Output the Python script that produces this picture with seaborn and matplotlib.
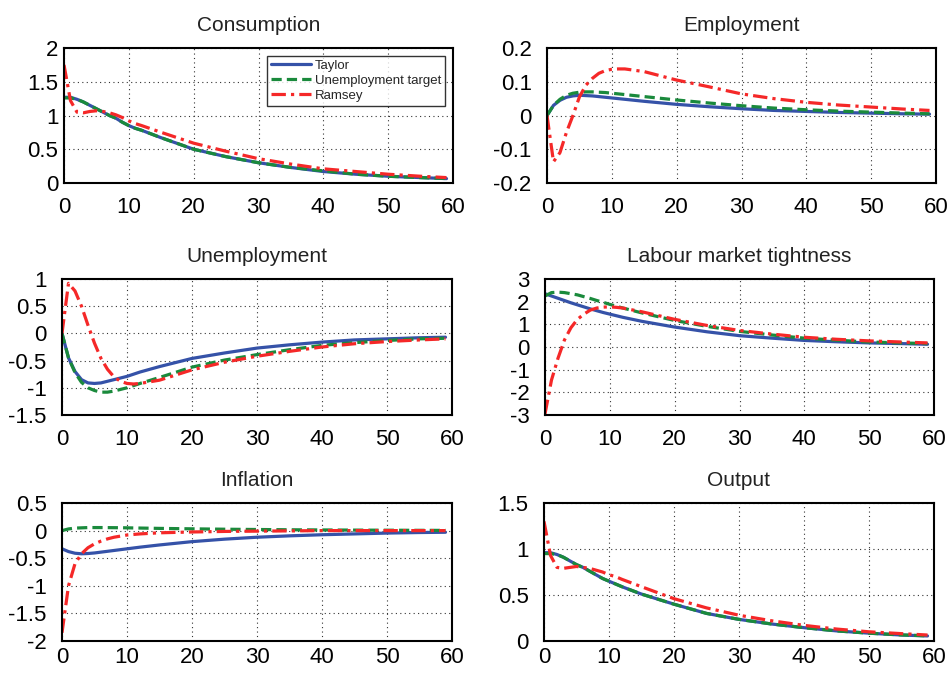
import numpy as np
import pandas as pd
import matplotlib
matplotlib.use("Agg")
import matplotlib.pyplot as plt
import seaborn as sns

# ---------------- data ----------------
periods = [0, 1, 2, 3, 4, 5, 6, 7, 8, 9, 10, 11, 12, 15, 20, 25, 30, 35, 40, 45, 50, 55, 59]

cons_taylor = [1.27, 1.27, 1.24, 1.20, 1.15, 1.10, 1.05, 1.00, 0.96, 0.90, 0.85, 0.81, 0.78, 0.67, 0.50, 0.39, 0.30, 0.23, 0.17, 0.13, 0.10, 0.08, 0.065]
cons_unemp  = [1.26, 1.26, 1.24, 1.20, 1.15, 1.10, 1.05, 1.00, 0.96, 0.90, 0.85, 0.81, 0.78, 0.67, 0.50, 0.39, 0.30, 0.23, 0.18, 0.13, 0.10, 0.08, 0.066]
cons_ramsey = [1.75, 1.22, 1.05, 1.04, 1.06, 1.07, 1.06, 1.04, 1.01, 0.97, 0.92, 0.88, 0.85, 0.75, 0.59, 0.47, 0.36, 0.28, 0.21, 0.17, 0.13, 0.10, 0.08]

emp_taylor = [0.0, 0.030, 0.045, 0.054, 0.058, 0.060, 0.059, 0.058, 0.056, 0.054, 0.052, 0.050, 0.048, 0.042, 0.033, 0.026, 0.020, 0.015, 0.012, 0.009, 0.007, 0.005, 0.004]
emp_unemp  = [0.0, 0.030, 0.048, 0.060, 0.066, 0.069, 0.070, 0.070, 0.069, 0.068, 0.066, 0.064, 0.062, 0.056, 0.046, 0.037, 0.029, 0.022, 0.017, 0.013, 0.010, 0.007, 0.005]
emp_ramsey = [0.0, -0.137, -0.11, -0.05, 0.0, 0.055, 0.09, 0.11, 0.125, 0.133, 0.137, 0.138, 0.138, 0.13, 0.105, 0.085, 0.064, 0.050, 0.039, 0.031, 0.025, 0.019, 0.015]

unemp_taylor = [0.0, -0.45, -0.70, -0.85, -0.91, -0.92, -0.91, -0.88, -0.85, -0.82, -0.79, -0.75, -0.71, -0.61, -0.46, -0.36, -0.27, -0.21, -0.16, -0.12, -0.10, -0.08, -0.07]
unemp_unemp  = [0.0, -0.45, -0.72, -0.90, -1.00, -1.05, -1.08, -1.08, -1.06, -1.03, -1.00, -0.96, -0.92, -0.81, -0.62, -0.49, -0.39, -0.30, -0.22, -0.17, -0.13, -0.10, -0.09]
unemp_ramsey = [0.0, 0.92, 0.78, 0.50, 0.15, -0.18, -0.46, -0.66, -0.80, -0.88, -0.92, -0.93, -0.92, -0.86, -0.67, -0.53, -0.42, -0.33, -0.25, -0.19, -0.15, -0.12, -0.10]

tight_taylor = [2.35, 2.25, 2.15, 2.05, 1.95, 1.86, 1.77, 1.68, 1.60, 1.52, 1.45, 1.38, 1.31, 1.13, 0.88, 0.67, 0.50, 0.39, 0.29, 0.23, 0.18, 0.15, 0.12]
tight_unemp  = [2.25, 2.40, 2.42, 2.40, 2.35, 2.30, 2.22, 2.14, 2.05, 1.97, 1.88, 1.80, 1.72, 1.50, 1.17, 0.91, 0.69, 0.53, 0.39, 0.30, 0.22, 0.18, 0.15]
tight_ramsey = [-2.95, -1.46, -0.50, 0.31, 0.85, 1.22, 1.45, 1.63, 1.72, 1.76, 1.77, 1.75, 1.72, 1.55, 1.22, 0.95, 0.73, 0.57, 0.43, 0.34, 0.27, 0.22, 0.18]

infl_taylor = [-0.33, -0.38, -0.41, -0.42, -0.415, -0.405, -0.39, -0.375, -0.36, -0.345, -0.33, -0.315, -0.30, -0.26, -0.20, -0.155, -0.12, -0.095, -0.075, -0.06, -0.045, -0.035, -0.03]
infl_unemp  = [0.0, 0.03, 0.045, 0.05, 0.055, 0.055, 0.055, 0.054, 0.053, 0.052, 0.05, 0.048, 0.046, 0.04, 0.032, 0.025, 0.02, 0.015, 0.012, 0.009, 0.007, 0.005, 0.004]
infl_ramsey = [-1.85, -1.0, -0.6, -0.42, -0.31, -0.24, -0.19, -0.15, -0.12, -0.10, -0.08, -0.07, -0.06, -0.04, -0.025, -0.015, -0.01, -0.005, 0.0, 0.0, 0.0, 0.0, 0.0]

out_taylor = [0.96, 0.96, 0.94, 0.91, 0.87, 0.83, 0.80, 0.76, 0.72, 0.68, 0.65, 0.62, 0.59, 0.51, 0.40, 0.30, 0.235, 0.185, 0.145, 0.11, 0.085, 0.065, 0.055]
out_unemp  = [0.95, 0.95, 0.94, 0.91, 0.87, 0.83, 0.80, 0.76, 0.72, 0.68, 0.65, 0.62, 0.59, 0.51, 0.40, 0.30, 0.235, 0.185, 0.145, 0.11, 0.085, 0.066, 0.056]
out_ramsey = [1.30, 0.93, 0.80, 0.79, 0.80, 0.81, 0.80, 0.79, 0.77, 0.75, 0.72, 0.70, 0.67, 0.59, 0.46, 0.36, 0.28, 0.22, 0.17, 0.13, 0.10, 0.08, 0.065]

titles = ["Consumption", "Employment", "Unemployment", "Labour market tightness", "Inflation", "Output"]
series_names = ["Taylor", "Unemployment target", "Ramsey"]
panel_values = [
    (cons_taylor, cons_unemp, cons_ramsey),
    (emp_taylor, emp_unemp, emp_ramsey),
    (unemp_taylor, unemp_unemp, unemp_ramsey),
    (tight_taylor, tight_unemp, tight_ramsey),
    (infl_taylor, infl_unemp, infl_ramsey),
    (out_taylor, out_unemp, out_ramsey),
]
y_limits = [(0, 2), (-0.2, 0.2), (-1.5, 1), (-3, 3), (-2, 0.5), (0, 1.5)]
y_ticks = [
    [0, 0.5, 1, 1.5, 2],
    [-0.2, -0.1, 0, 0.1, 0.2],
    [-1.5, -1, -0.5, 0, 0.5, 1],
    [-3, -2, -1, 0, 1, 2, 3],
    [-2, -1.5, -1, -0.5, 0, 0.5],
    [0, 0.5, 1, 1.5],
]
x_ticks = [0, 10, 20, 30, 40, 50, 60]

# ---------------- style ----------------
sns.set_style("white")
plt.rcParams["font.family"] = ["Liberation Sans", "DejaVu Sans"]

colors = {"Taylor": "#3552a8", "Unemployment target": "#1a8a3c", "Ramsey": "#f52828"}
dashes = {"Taylor": "", "Unemployment target": (3.2, 1.6), "Ramsey": (4.5, 1.6, 1.0, 1.6)}

fig = plt.figure(figsize=(9.48, 6.74), dpi=100)
W, H = 948.0, 674.0
# axes rectangles in pixels: left, top, right, bottom
rects_px = [
    (64, 48, 453, 183),
    (547, 48, 936, 183),
    (62, 279, 452, 415),
    (545, 279, 934, 415),
    (62, 503, 452, 641),
    (544, 503, 934, 641),
]
ypads = [4, 11, 11, 11, 11, 11]
xpads = [10, 10, 10, 10, 4, 4]

for i, (title, vals) in enumerate(zip(titles, panel_values)):
    l, t, r, b = rects_px[i]
    ax = fig.add_axes([l / W, 1 - b / H, (r - l) / W, (b - t) / H])
    df = pd.DataFrame({
        "period": periods * 3,
        "value": list(vals[0]) + list(vals[1]) + list(vals[2]),
        "policy": [series_names[0]] * len(periods) + [series_names[1]] * len(periods) + [series_names[2]] * len(periods),
    })
    sns.lineplot(data=df, x="period", y="value", hue="policy", style="policy",
                 palette=colors, dashes=dashes, hue_order=series_names,
                 style_order=series_names, linewidth=2.3, ax=ax, legend=(i == 0))
    ax.set_xlim(0, 60)
    ax.set_ylim(*y_limits[i])
    ax.set_xticks(x_ticks)
    ax.set_yticks(y_ticks[i])
    ax.set_xticklabels([str(v) for v in x_ticks])
    ax.set_yticklabels([f"{v:g}" for v in y_ticks[i]])
    ax.set_xlabel("")
    ax.set_ylabel("")
    ax.grid(True, linestyle=(0, (1, 3)), color="#333333", linewidth=0.8)
    for sp in ax.spines.values():
        sp.set_visible(True)
        sp.set_color("black")
        sp.set_linewidth(1.5)
    ax.tick_params(axis="x", direction="in", length=3, labelsize=16, pad=xpads[i], colors="black")
    ax.tick_params(axis="y", direction="in", length=3, labelsize=16, pad=ypads[i], colors="black")
    ax.set_title(title, fontsize=15, pad=12, color="#222222")
    if i == 0:
        leg = ax.legend(loc="upper right", fontsize=9.5, frameon=True, fancybox=False,
                        borderaxespad=0.6, handlelength=3.0, labelspacing=0.2,
                        borderpad=0.3, handletextpad=0.3)
        leg.get_frame().set_edgecolor("black")
        leg.get_frame().set_linewidth(1.0)
        leg.set_title(None)

fig.savefig("out.png", dpi=100)
